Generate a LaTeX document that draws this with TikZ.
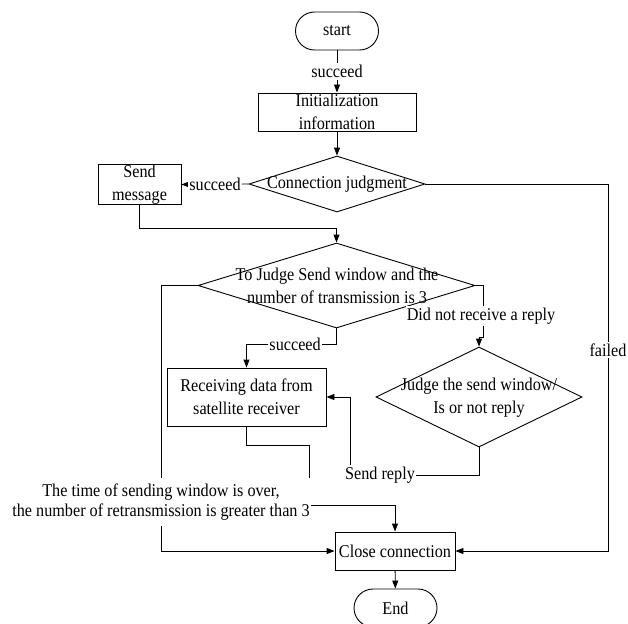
\documentclass[tikz,border=0pt]{standalone}
\usepackage{fontspec}
\setmainfont{Liberation Serif}[FakeStretch=0.9]
\usetikzlibrary{arrows.meta,shapes.geometric}
\newcommand\myfs{\fontsize{18}{23}\selectfont}
\newcommand\myfss{\fontsize{18}{20}\selectfont}
\begin{document}
\begin{tikzpicture}[x=1pt,y=-1pt,line width=0.9pt,
  every node/.style={font=\myfs, inner sep=0pt},
  term/.style={draw, rounded corners=19pt, minimum width=83pt, minimum height=38pt},
  procbox/.style={draw, align=center, minimum height=38pt},
  decis/.style={draw, diamond, aspect=1},
  lbl/.style={fill=white, inner xsep=1pt, inner ysep=2pt},
  arr/.style={-{Triangle[length=8pt,width=6pt]}}]
\useasboundingbox (0,0) rectangle (628,623);

% nodes
\node[term] (start) at (337,31) {start};
\node[procbox, minimum width=158pt] (init) at (337,112) {Initialization\\information};
\node[decis, minimum width=176pt, minimum height=56pt] (d1) at (337,184) {};
\node (d1t) at (337,184) {Connection judgment};
\node[procbox, minimum width=83pt, minimum height=39pt] (send) at (139.5,184.5) {Send\\message};
\node[decis, minimum width=277pt, minimum height=85pt] (d2) at (336.5,285.5) {};
\node[align=center] (d2t) at (337,286) {To Judge Send window and the\\number of transmission is 3};
\node[procbox, minimum width=159pt, minimum height=58pt] (recv) at (246.5,397) {Receiving data from\\satellite receiver};
\node[decis, minimum width=206pt, minimum height=100pt] (d3) at (479,397) {};
\node[align=center] (d3t) at (479,398) {Judge the send window/\\Is or not reply};
\node[procbox, minimum width=120pt] (close) at (395,551) {Close connection};
\node[term] (end) at (395.5,608) {End};

% helper coordinates
\coordinate (lx) at (161,0);
\coordinate (fx) at (608,0);
\coordinate (rj) at (309,505);
\coordinate (dj) at (483,337);
\coordinate (sj) at (350,475);

% connectors
\draw[arr] (start) -- node[lbl] (s1) {succeed} (init);
\draw[arr] (init) -- (d1);
\draw[arr] (d1.west) -- node[lbl] (s2) {succeed} (send.east);
\draw[arr] (send.south) -- ++(0,24) -| (d2.north);
\draw[arr] (d2.south) -- ++(0,16) coordinate (c1) -- node[lbl, pos=0.46] (s3) {succeed} (c1 -| recv.north) -- (recv.north);
\draw[arr] (d2.west) -- (d2.west -| lx) |- (close.west);
\draw[arr] (recv.south) -- ++(0,19) -| (rj) -| (close.north);
\draw[arr] (d2.east) -| (dj) -- (dj -| d3.north) -- (d3.north);
\draw[arr] (d3.south) |- (sj) |- (recv.east);
\draw[arr] (d1.east) -- (d1.east -| fx) |- (close.east);
\draw[arr] (close) -- (end);

% labels on connectors
\node[lbl] (nr) at (481,316) {Did not receive a reply};
\node[lbl] (sr) at (380,475) {Send reply};
\node[lbl] (fl) at (608,350) {failed};
\node[lbl, align=center, font=\myfss, inner ysep=6pt] (tw) at (161,502)
  {The time of sending window is over,\\the number of retransmission is greater than 3};
\end{tikzpicture}
\end{document}
